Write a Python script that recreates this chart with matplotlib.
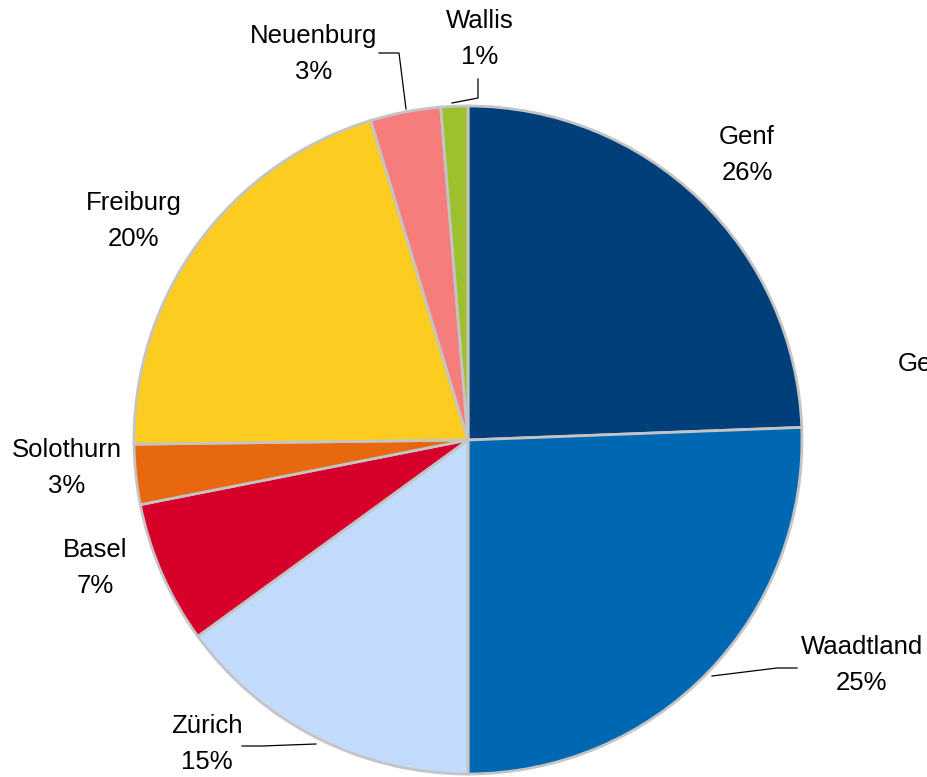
import matplotlib
matplotlib.use('Agg')
import matplotlib.pyplot as plt

plt.rcParams['font.family'] = ['Liberation Sans', 'DejaVu Sans']

# slice data (clockwise from 12 o'clock), shares
cantons = ["Genf", "Waadtland", "Zürich", "Basel", "Solothurn", "Freiburg", "Neuenburg", "Wallis"]
shares = [24.4, 25.6, 15.0, 6.9, 2.9, 20.5, 3.4, 1.3]
pct_labels = ["26%", "25%", "15%", "7%", "3%", "20%", "3%", "1%"]
colors = ["#003f7a", "#0068b2", "#c2dbfc", "#d6002b", "#e8680f", "#fccd20", "#f57d7b", "#9dc02f"]

# label layout in pixel coords (x, y from top)
label_pos = [(747, 155), (862, 665), (207, 744), (95, 568), (67, 468), (134, 221), (314, 54), (480, 39)]
leaders = {
    "Waadtland": [(712, 676), (777, 668), (797, 668)],
    "Zürich": [(316, 744), (262, 746), (242, 746)],
    "Neuenburg": [(406, 109), (399, 53), (379, 53)],
    "Wallis": [(452, 103), (478, 98), (478, 79)],
}

W, H = 928, 777
fig = plt.figure(figsize=(W / 100, H / 100), dpi=100)
ax = fig.add_axes([0, 0, 1, 1])
ax.axis('off')

ax.pie(shares, colors=colors, startangle=90, counterclock=False,
       center=(468, H - 440), radius=334, explode=[0.01] * len(shares),
       wedgeprops=dict(edgecolor='#c4c4c4', linewidth=2))
ax.set_xlim(0, W)
ax.set_ylim(0, H)
ax.set_aspect('equal')

for name, pct, (x, y) in zip(cantons, pct_labels, label_pos):
    ax.text(x, H - y, f"{name}\n{pct}", ha='center', va='center',
            fontsize=18.5, linespacing=1.65, color='black')

for pts in leaders.values():
    ax.plot([p[0] for p in pts], [H - p[1] for p in pts], color='black', lw=0.9)

# label cut off at the right edge, as in the source image
ax.text(898, H - 364, "Genf", ha='left', va='center', fontsize=18.5, color='black')

fig.savefig("out.png", dpi=100)
